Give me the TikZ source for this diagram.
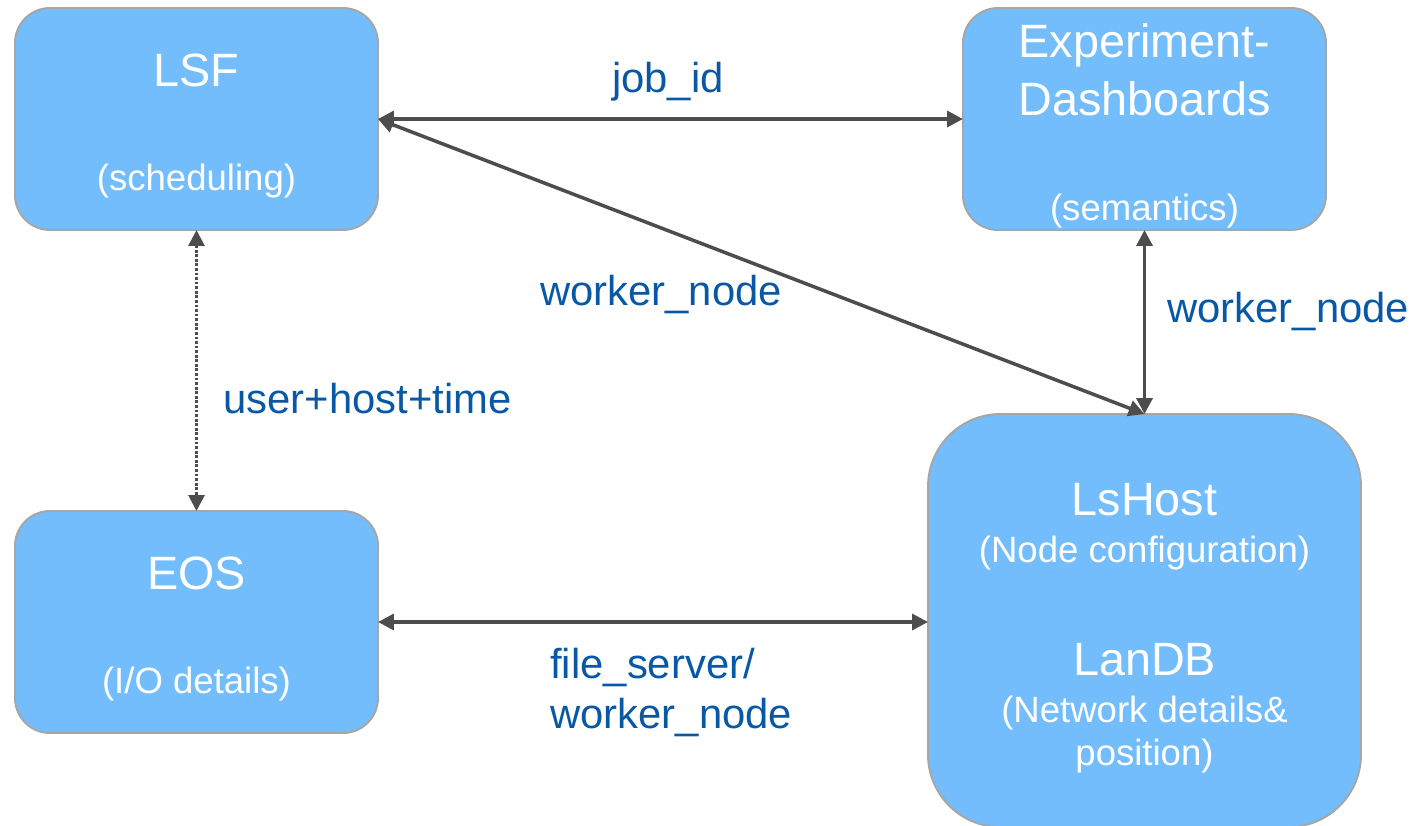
\documentclass[tikz,border=0pt]{standalone}
\usepackage{fontspec}
\setmainfont{Liberation Sans}
\usepackage{xcolor}
\usetikzlibrary{arrows.meta}

\definecolor{boxblue}{RGB}{116,189,252}
\definecolor{boxline}{RGB}{166,166,166}
\definecolor{arrowgray}{RGB}{77,77,77}
\definecolor{labelblue}{RGB}{8,88,165}

\tikzset{
  sysbox/.style={draw=boxline,line width=1.1pt,fill=boxblue,rounded corners=0.7cm,
    inner sep=0pt,outer sep=0pt},
  title/.style={text=white,font=\fontsize{26.6pt}{30pt}\selectfont,inner sep=0pt,anchor=base},
  sub/.style={text=white,font=\fontsize{20.8pt}{24pt}\selectfont,inner sep=0pt,anchor=base},
  flowlabel/.style={text=labelblue,font=\fontsize{23.8pt}{28pt}\selectfont,inner sep=0pt,anchor=base},
  link/.style={draw=arrowgray,line width=2pt,{Triangle[length=9pt,width=9pt]}-{Triangle[length=9pt,width=9pt]}},
}

\begin{document}
\begin{tikzpicture}
\useasboundingbox (0,0) rectangle (28.32,-16.5);
\clip (0,0) rectangle (28.32,-16.5);

% systems
\node[sysbox,minimum width=7.26cm,minimum height=4.44cm] (lsf) at (3.93,-2.38) {};
\node[sysbox,minimum width=7.26cm,minimum height=4.44cm] (dash) at (22.89,-2.38) {};
\node[sysbox,minimum width=7.26cm,minimum height=4.44cm] (eos) at (3.93,-12.44) {};
\node[sysbox,rounded corners=1.45cm,minimum width=8.66cm,minimum height=8.26cm] (lshost) at (22.89,-12.41) {};

\node[title] (lsftitle) at (3.93,-1.72) {LSF};
\node[sub] (lsfsub) at (3.93,-3.80) {(scheduling)};
\node[title] (dashtitle) at (22.89,-1.14) {Experiment-};
\node[title] (dashtitleb) at (22.89,-2.30) {Dashboards};
\node[sub] (dashsub) at (22.89,-4.40) {(semantics)};
\node[title] (eostitle) at (3.93,-11.78) {EOS};
\node[sub] (eossub) at (3.93,-13.86) {(I/O details)};
\node[title] (hosttitle) at (22.89,-10.30) {LsHost};
\node[sub] (hostsub) at (22.89,-11.24) {(Node configuration)};
\node[title] (landbtitle) at (22.89,-13.50) {LanDB};
\node[sub] (landbsub) at (22.89,-14.44) {(Network details\&};
\node[sub] (landbsubb) at (22.89,-15.30) {position)};

% links
\draw[link] (lsf.east) -- (dash.west);
\draw[link] (lsf.east) -- (lshost.north);
\draw[link] (dash.south) -- (lshost.north);
\draw[link,line width=1.6pt,dash pattern=on 1.6pt off 1pt] (lsf.south) -- (eos.north);
\draw[link] (eos.east) -- (eos.east -| lshost.west);

\node[flowlabel] (jobid) at (13.36,-1.84) {job\_id};
\node[flowlabel] (wndiag) at (13.22,-6.10) {worker\_node};
\node[flowlabel,anchor=base west] (wnright) at (23.34,-6.44) {worker\_node};
\node[flowlabel,anchor=base west] (uht) at (4.46,-8.26) {user+host+time};
\node[flowlabel,anchor=base west] (fs) at (11.0,-13.56) {file\_server/};
\node[flowlabel,anchor=base west] (fswn) at (11.0,-14.56) {worker\_node};
\end{tikzpicture}
\end{document}
